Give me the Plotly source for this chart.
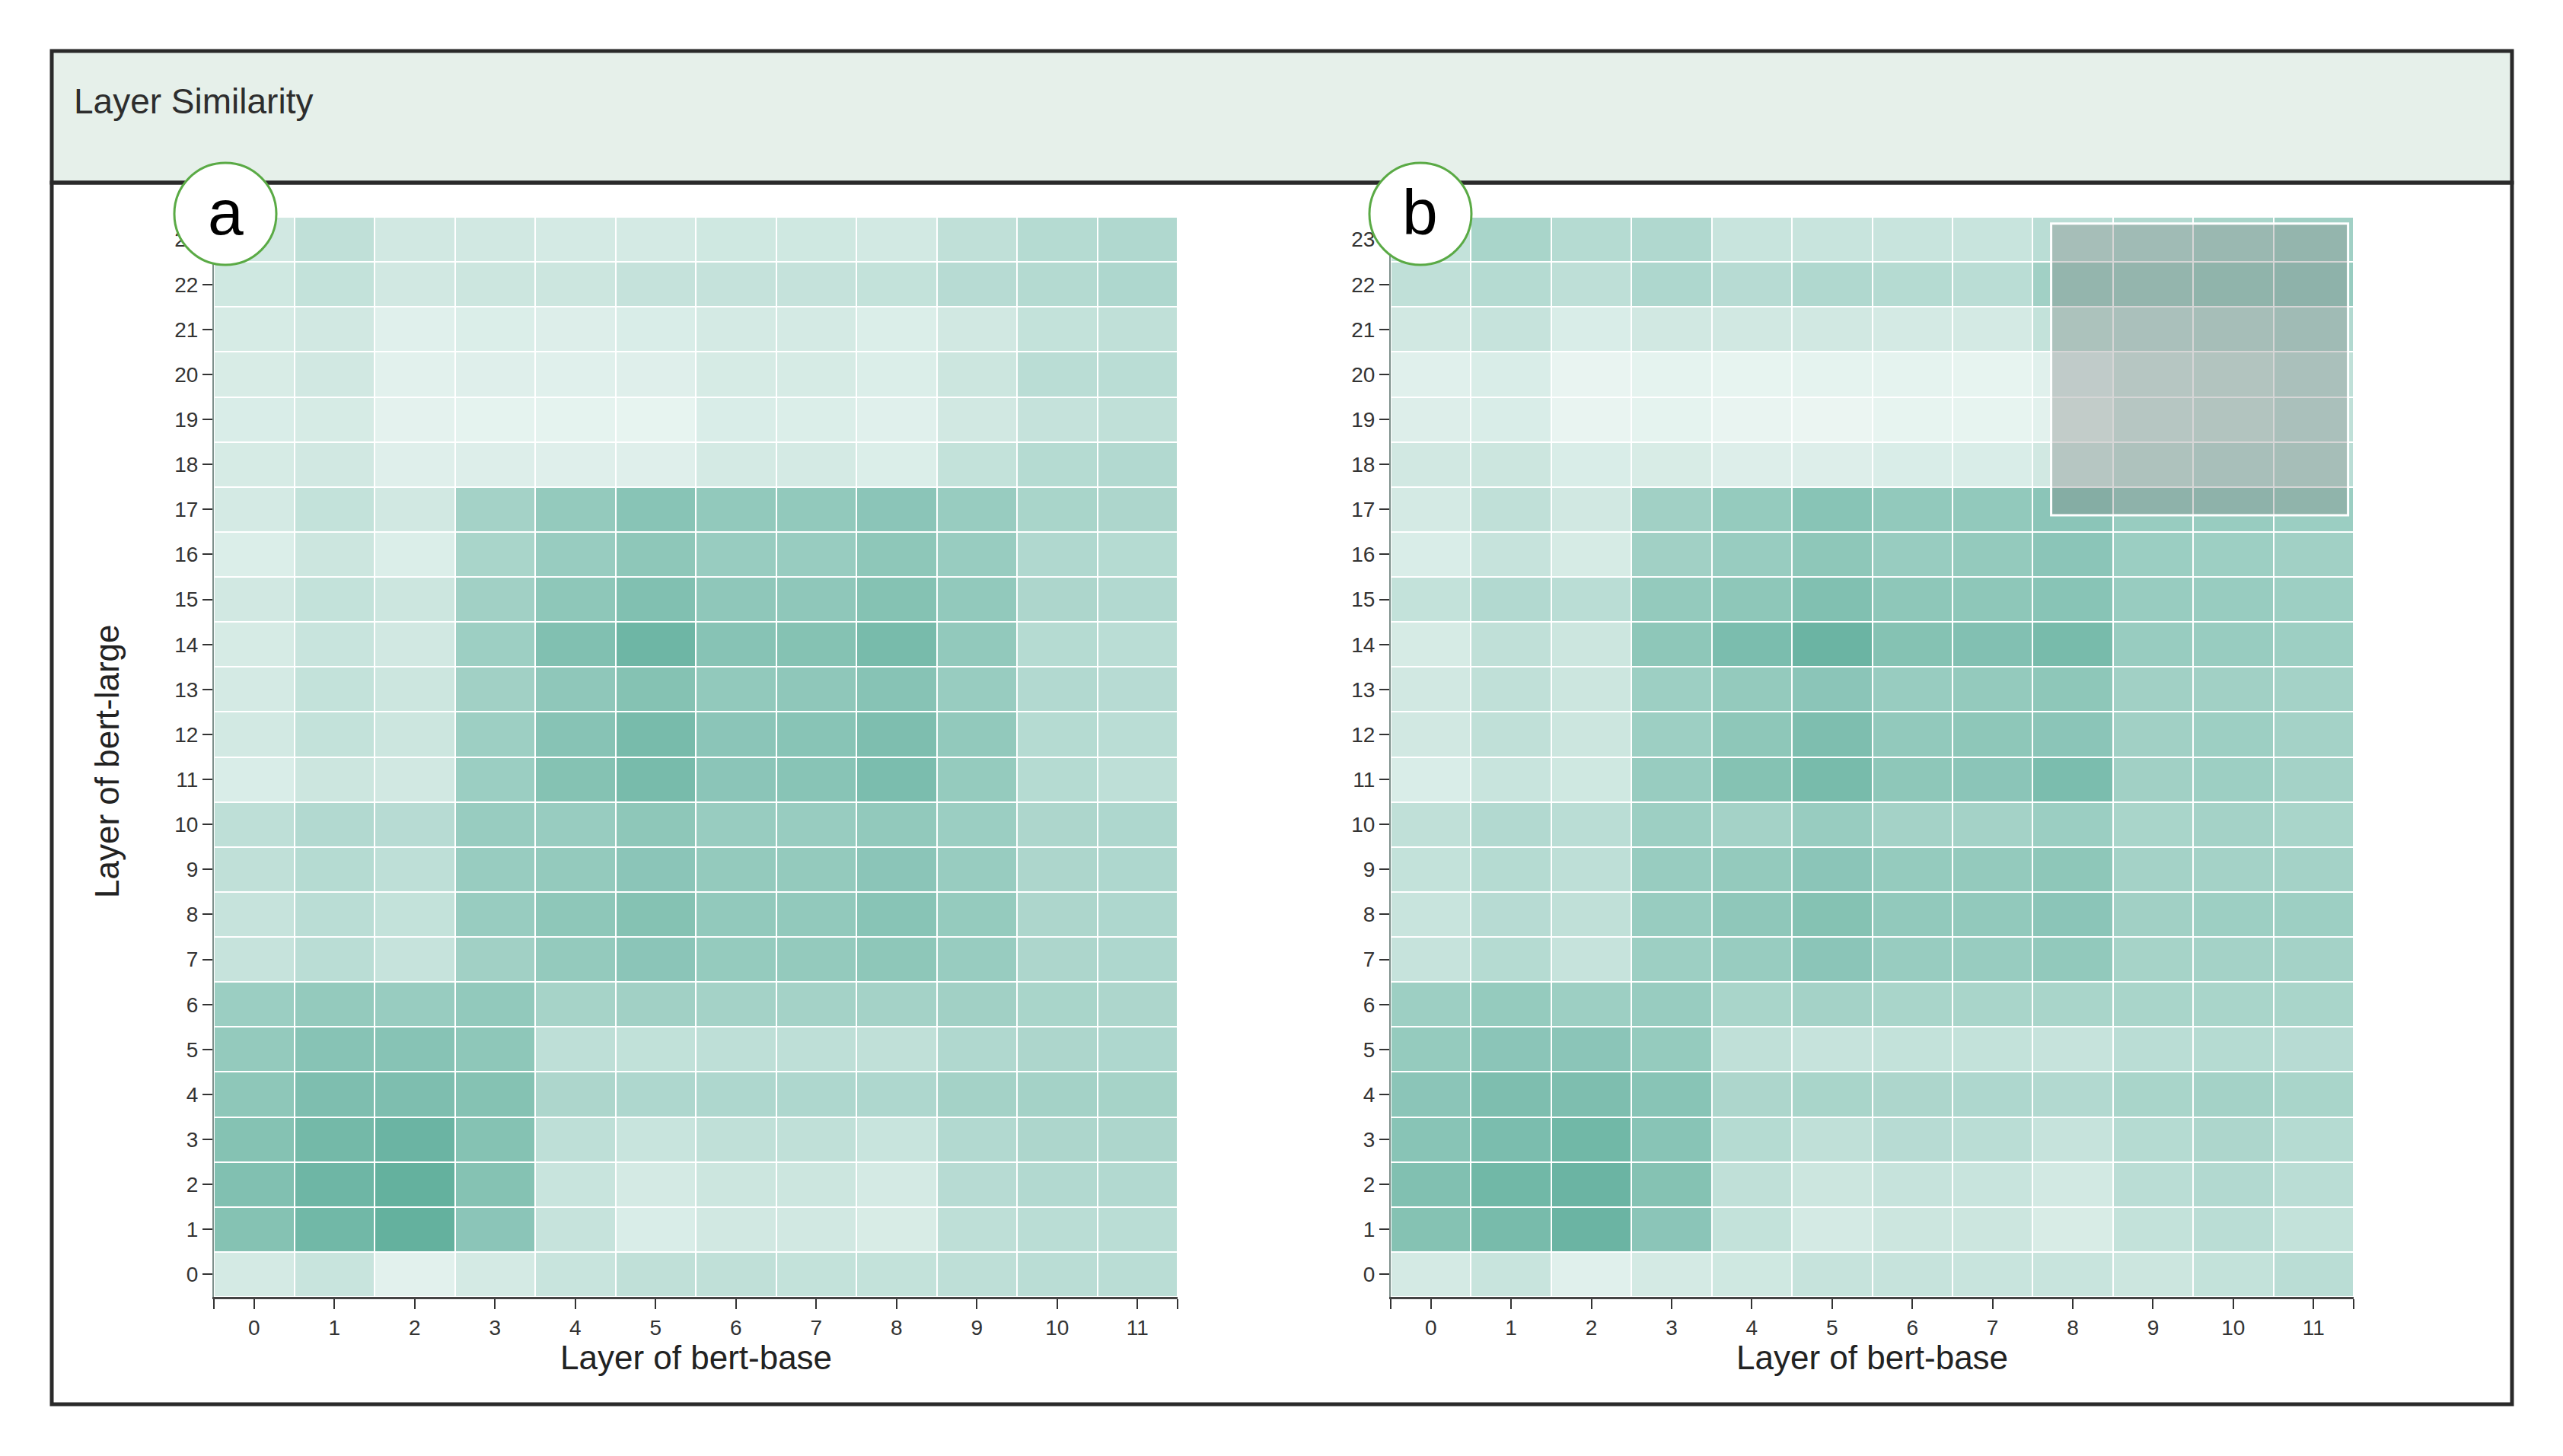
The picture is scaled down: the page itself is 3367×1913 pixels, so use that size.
import plotly.graph_objects as go

W, H = 3367, 1913

base_layers = list(range(12))   # bert-base layers (x)
large_layers = list(range(24))  # bert-large layers (y)

# similarity (0..1) for panel a, row index = bert-large layer
sim_a = [
    [0.15, 0.22, 0.07, 0.15, 0.22, 0.27, 0.27, 0.25, 0.25, 0.28, 0.30, 0.30],
    [0.65, 0.80, 0.90, 0.60, 0.23, 0.12, 0.17, 0.17, 0.13, 0.28, 0.30, 0.30],
    [0.68, 0.82, 0.90, 0.65, 0.22, 0.15, 0.20, 0.20, 0.15, 0.32, 0.35, 0.35],
    [0.65, 0.78, 0.85, 0.65, 0.28, 0.22, 0.27, 0.27, 0.22, 0.35, 0.38, 0.38],
    [0.58, 0.70, 0.70, 0.65, 0.38, 0.37, 0.37, 0.37, 0.37, 0.43, 0.43, 0.42],
    [0.53, 0.63, 0.63, 0.58, 0.28, 0.26, 0.28, 0.28, 0.27, 0.36, 0.38, 0.37],
    [0.48, 0.53, 0.50, 0.55, 0.42, 0.45, 0.43, 0.43, 0.43, 0.45, 0.40, 0.38],
    [0.23, 0.30, 0.23, 0.45, 0.53, 0.60, 0.52, 0.53, 0.58, 0.50, 0.38, 0.37],
    [0.23, 0.30, 0.25, 0.50, 0.58, 0.65, 0.55, 0.55, 0.62, 0.52, 0.38, 0.37],
    [0.27, 0.33, 0.28, 0.50, 0.53, 0.60, 0.53, 0.53, 0.60, 0.50, 0.38, 0.37],
    [0.28, 0.35, 0.32, 0.50, 0.50, 0.58, 0.50, 0.50, 0.55, 0.48, 0.38, 0.37],
    [0.12, 0.20, 0.17, 0.48, 0.65, 0.75, 0.60, 0.62, 0.72, 0.52, 0.33, 0.28],
    [0.16, 0.25, 0.20, 0.47, 0.63, 0.75, 0.60, 0.62, 0.70, 0.55, 0.33, 0.30],
    [0.15, 0.25, 0.20, 0.45, 0.57, 0.65, 0.55, 0.57, 0.63, 0.50, 0.35, 0.32],
    [0.14, 0.22, 0.17, 0.47, 0.68, 0.82, 0.63, 0.65, 0.75, 0.55, 0.33, 0.30],
    [0.17, 0.25, 0.20, 0.45, 0.58, 0.68, 0.57, 0.57, 0.65, 0.55, 0.38, 0.35],
    [0.11, 0.20, 0.11, 0.40, 0.50, 0.58, 0.50, 0.50, 0.58, 0.50, 0.36, 0.33],
    [0.15, 0.25, 0.17, 0.43, 0.53, 0.62, 0.55, 0.55, 0.60, 0.50, 0.40, 0.38],
    [0.14, 0.17, 0.09, 0.10, 0.09, 0.09, 0.15, 0.15, 0.11, 0.25, 0.33, 0.35],
    [0.12, 0.14, 0.06, 0.05, 0.05, 0.04, 0.12, 0.11, 0.08, 0.17, 0.24, 0.27],
    [0.13, 0.17, 0.07, 0.09, 0.08, 0.09, 0.14, 0.14, 0.11, 0.20, 0.30, 0.30],
    [0.14, 0.17, 0.08, 0.11, 0.10, 0.12, 0.15, 0.15, 0.11, 0.17, 0.25, 0.27],
    [0.18, 0.25, 0.17, 0.20, 0.20, 0.24, 0.24, 0.24, 0.25, 0.32, 0.34, 0.37],
    [0.17, 0.27, 0.17, 0.17, 0.15, 0.15, 0.18, 0.18, 0.16, 0.27, 0.33, 0.36],
]

# similarity (0..1) for panel b
sim_b = [
    [0.15, 0.22, 0.08, 0.15, 0.18, 0.23, 0.23, 0.22, 0.22, 0.20, 0.25, 0.30],
    [0.65, 0.75, 0.85, 0.60, 0.25, 0.15, 0.20, 0.20, 0.13, 0.25, 0.30, 0.25],
    [0.68, 0.80, 0.85, 0.65, 0.27, 0.20, 0.23, 0.22, 0.16, 0.30, 0.35, 0.30],
    [0.62, 0.72, 0.80, 0.62, 0.33, 0.27, 0.32, 0.30, 0.23, 0.33, 0.38, 0.33],
    [0.60, 0.70, 0.70, 0.62, 0.38, 0.40, 0.38, 0.37, 0.35, 0.40, 0.43, 0.40],
    [0.52, 0.60, 0.60, 0.52, 0.27, 0.23, 0.25, 0.25, 0.23, 0.30, 0.33, 0.32],
    [0.47, 0.52, 0.47, 0.50, 0.40, 0.43, 0.40, 0.40, 0.40, 0.40, 0.40, 0.40],
    [0.23, 0.33, 0.23, 0.47, 0.50, 0.60, 0.50, 0.50, 0.55, 0.42, 0.43, 0.43],
    [0.22, 0.32, 0.27, 0.50, 0.57, 0.65, 0.55, 0.55, 0.60, 0.45, 0.47, 0.47],
    [0.25, 0.33, 0.28, 0.50, 0.53, 0.60, 0.52, 0.53, 0.58, 0.43, 0.43, 0.43],
    [0.27, 0.35, 0.30, 0.47, 0.43, 0.50, 0.43, 0.43, 0.48, 0.40, 0.43, 0.40],
    [0.12, 0.22, 0.18, 0.50, 0.65, 0.75, 0.58, 0.60, 0.72, 0.45, 0.47, 0.43],
    [0.17, 0.27, 0.20, 0.47, 0.58, 0.70, 0.55, 0.58, 0.60, 0.45, 0.47, 0.43],
    [0.17, 0.27, 0.20, 0.47, 0.53, 0.60, 0.50, 0.53, 0.58, 0.45, 0.45, 0.43],
    [0.14, 0.27, 0.20, 0.58, 0.72, 0.85, 0.65, 0.67, 0.75, 0.50, 0.50, 0.47],
    [0.25, 0.35, 0.30, 0.53, 0.58, 0.68, 0.58, 0.58, 0.62, 0.50, 0.50, 0.47],
    [0.12, 0.23, 0.14, 0.45, 0.50, 0.58, 0.50, 0.53, 0.60, 0.48, 0.47, 0.45],
    [0.15, 0.27, 0.17, 0.45, 0.52, 0.62, 0.55, 0.55, 0.60, 0.50, 0.50, 0.48],
    [0.17, 0.20, 0.12, 0.13, 0.10, 0.10, 0.12, 0.12, 0.17, 0.23, 0.28, 0.30],
    [0.10, 0.12, 0.03, 0.05, 0.03, 0.02, 0.04, 0.04, 0.07, 0.17, 0.20, 0.27],
    [0.08, 0.12, 0.03, 0.05, 0.04, 0.05, 0.05, 0.04, 0.08, 0.17, 0.20, 0.27],
    [0.17, 0.23, 0.12, 0.17, 0.17, 0.17, 0.15, 0.15, 0.25, 0.27, 0.30, 0.35],
    [0.27, 0.33, 0.28, 0.37, 0.32, 0.36, 0.33, 0.30, 0.45, 0.45, 0.48, 0.50],
    [0.25, 0.40, 0.33, 0.36, 0.22, 0.22, 0.22, 0.22, 0.30, 0.35, 0.40, 0.45],
]

# brush selection on panel b (data units)
brush_x = [7.73, 11.43]
brush_y = [16.87, 23.35]

title_text = "Layer Similarity"
x_title = "Layer of bert-base"
y_title = "Layer of bert-large"
panel_labels = ["a", "b"]

FONT = "Liberation Sans"
colorscale = [[0.0, "#eef7f4"], [0.5, "#98ccc0"], [1.0, "#57aa96"]]


def px(x):
    return x / W


def py(y):
    return 1 - y / H


fig = go.Figure()
for i, z in enumerate([sim_a, sim_b]):
    fig.add_trace(go.Heatmap(
        z=z, x=base_layers, y=large_layers,
        colorscale=colorscale, zmin=0, zmax=1, showscale=False,
        xgap=2, ygap=2,
        xaxis="x" if i == 0 else "x2", yaxis="y" if i == 0 else "y2",
    ))

# panel geometry (pixels)
plot_top, plot_bot = 285, 1704
panels_x = [(281, 1547), (1827, 3092)]

axis_common = dict(
    showgrid=False, zeroline=False, showline=True, linecolor="#444",
    ticks="outside", tickcolor="#333", tickwidth=2, ticklen=13,
    tickfont=dict(family=FONT, size=28, color="#333"),
    fixedrange=True,
)

layout = dict(
    width=W, height=H, margin=dict(l=0, r=0, t=0, b=0),
    paper_bgcolor="white", plot_bgcolor="white",
    showlegend=False, font=dict(family=FONT),
)

for i, (x0, x1) in enumerate(panels_x):
    sx = "" if i == 0 else "2"
    layout["xaxis" + sx] = dict(
        axis_common, domain=[px(x0), px(x1)], range=[-0.5, 11.5],
        tickmode="array", tickvals=base_layers, ticktext=[str(v) for v in base_layers],
        anchor="y" + sx, linewidth=3,
        minor=dict(tickmode="array", tickvals=[-0.5, 11.5], ticks="outside",
                   ticklen=13, tickcolor="#333", tickwidth=2),
    )
    layout["yaxis" + sx] = dict(
        axis_common, domain=[py(plot_bot), py(plot_top)], range=[-0.5, 23.5],
        tickmode="array", tickvals=large_layers, ticktext=[str(v) for v in large_layers],
        anchor="x" + sx, linewidth=2, linecolor="#7d8f8b",
    )

fig.update_layout(**layout)

shapes = []
# header panel
shapes.append(dict(type="rect", xref="paper", yref="paper", layer="below",
                   x0=px(68), x1=px(3300), y0=py(240), y1=py(67),
                   fillcolor="#e6f0ea", line=dict(color="#2a2a2a", width=5)))
# lower panel frame
shapes.append(dict(type="rect", xref="paper", yref="paper", layer="below",
                   x0=px(68), x1=px(3300), y0=py(1845), y1=py(240),
                   fillcolor="rgba(0,0,0,0)", line=dict(color="#2a2a2a", width=5)))
# brush on panel b
shapes.append(dict(type="rect", xref="x2", yref="y2",
                   x0=brush_x[0], x1=brush_x[1], y0=brush_y[0], y1=brush_y[1],
                   fillcolor="rgba(119,119,119,0.3)", line=dict(color="white", width=3)))

annotations = [
    dict(text=title_text, xref="paper", yref="paper", x=px(95), y=py(133),
         xanchor="left", yanchor="middle", showarrow=False,
         font=dict(family=FONT, size=46, color="#2d2d2d")),
]

for i, (x0, x1) in enumerate(panels_x):
    cx = x0 + 15 if i == 0 else x0 + 39
    shapes.append(dict(type="circle", xref="paper", yref="paper",
                       x0=px(cx - 67), x1=px(cx + 67), y0=py(281 + 67), y1=py(281 - 67),
                       fillcolor="white", line=dict(color="#5aaa45", width=3)))
    annotations.append(dict(text=panel_labels[i], xref="paper", yref="paper",
                            x=px(cx), y=py(279), xanchor="center", yanchor="middle",
                            showarrow=False, font=dict(family=FONT, size=84, color="black")))
    annotations.append(dict(text=x_title, xref="paper", yref="paper",
                            x=px((x0 + x1) / 2), y=py(1783), xanchor="center", yanchor="middle",
                            showarrow=False, font=dict(family=FONT, size=44, color="#222")))

annotations.append(dict(text=y_title, xref="paper", yref="paper", x=px(140), y=py(1000),
                        xanchor="center", yanchor="middle", textangle=-90, showarrow=False,
                        font=dict(family=FONT, size=44, color="#222")))

fig.update_layout(shapes=shapes, annotations=annotations)

fig.write_html("out.html", config={"displayModeBar": False},
               post_script="document.body.style.margin='0';")
